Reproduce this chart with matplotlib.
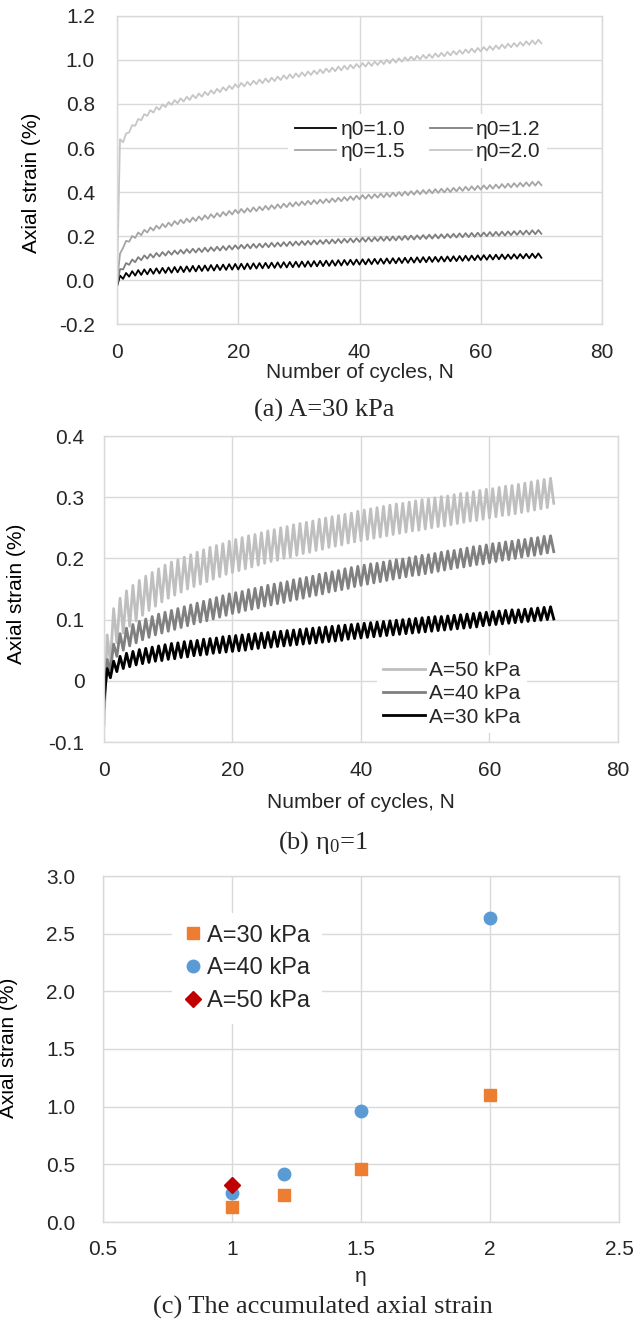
import matplotlib
matplotlib.use("Agg")
import matplotlib.pyplot as plt
from matplotlib.ticker import FormatStrFormatter
import numpy as np

W, H = 641, 1324
GRID = "#D9D9D9"; TXT = "#262626"
plt.rcParams.update({
    "font.family": ["Liberation Sans", "DejaVu Sans"], "font.size": 15,
    "mathtext.fontset": "custom", "mathtext.rm": "Liberation Serif",
    "mathtext.it": "Liberation Serif:italic",
    "text.color": TXT, "xtick.color": TXT, "ytick.color": TXT,
})

# ---- DATA ----
# cycle numbers; troughs sit on whole cycles, peaks half a cycle later
CYCLES = np.arange(71)

# (a) A=30 kPa, per-cycle troughs / peaks of axial strain (%)
eta12_lo = [-0.025, 0.048, 0.069, 0.081, 0.090, 0.097, 0.102, 0.107, 0.111, 0.115, 0.118, 0.120, 0.123, 0.125, 0.127,
            0.129, 0.132, 0.134, 0.136, 0.139, 0.141, 0.143, 0.144, 0.146, 0.148, 0.149, 0.151, 0.153, 0.154, 0.156,
            0.158, 0.159, 0.161, 0.162, 0.164, 0.165, 0.167, 0.168, 0.170, 0.171, 0.173, 0.174, 0.175, 0.177, 0.178,
            0.179, 0.180, 0.182, 0.183, 0.184, 0.186, 0.187, 0.188, 0.189, 0.190, 0.192, 0.193, 0.194, 0.195, 0.196,
            0.198, 0.199, 0.200, 0.201, 0.202, 0.204, 0.205, 0.206, 0.207, 0.208, 0.210]
eta12_hi = [0.050, 0.077, 0.093, 0.104, 0.112, 0.118, 0.123, 0.127, 0.131, 0.134, 0.137, 0.140, 0.142, 0.144, 0.147,
            0.149, 0.151, 0.154, 0.156, 0.158, 0.160, 0.162, 0.164, 0.165, 0.167, 0.169, 0.170, 0.172, 0.174, 0.175,
            0.177, 0.178, 0.180, 0.181, 0.183, 0.184, 0.186, 0.187, 0.189, 0.190, 0.192, 0.193, 0.194, 0.196, 0.197,
            0.198, 0.199, 0.201, 0.202, 0.203, 0.204, 0.206, 0.207, 0.208, 0.209, 0.210, 0.212, 0.213, 0.214, 0.215,
            0.216, 0.218, 0.219, 0.220, 0.221, 0.222, 0.224, 0.225, 0.226, 0.227]
eta15_lo = [-0.010, 0.146, 0.174, 0.191, 0.204, 0.216, 0.225, 0.233, 0.240, 0.246, 0.253, 0.258, 0.263, 0.268, 0.273,
            0.278, 0.283, 0.288, 0.293, 0.298, 0.303, 0.306, 0.310, 0.313, 0.317, 0.320, 0.324, 0.327, 0.331, 0.334,
            0.338, 0.341, 0.344, 0.346, 0.349, 0.352, 0.355, 0.358, 0.361, 0.364, 0.367, 0.369, 0.371, 0.374, 0.376,
            0.378, 0.381, 0.383, 0.385, 0.388, 0.390, 0.392, 0.394, 0.396, 0.398, 0.400, 0.403, 0.405, 0.407, 0.409,
            0.411, 0.413, 0.415, 0.417, 0.419, 0.421, 0.423, 0.425, 0.427, 0.429, 0.431]
eta15_hi = [0.120, 0.178, 0.200, 0.216, 0.228, 0.239, 0.247, 0.255, 0.261, 0.268, 0.274, 0.279, 0.284, 0.289, 0.294,
            0.299, 0.304, 0.309, 0.314, 0.319, 0.323, 0.326, 0.330, 0.333, 0.337, 0.340, 0.344, 0.347, 0.351, 0.354,
            0.357, 0.360, 0.363, 0.365, 0.368, 0.371, 0.374, 0.377, 0.380, 0.383, 0.386, 0.388, 0.390, 0.393, 0.395,
            0.397, 0.400, 0.402, 0.404, 0.407, 0.409, 0.411, 0.413, 0.415, 0.417, 0.419, 0.422, 0.424, 0.426, 0.428,
            0.430, 0.432, 0.434, 0.436, 0.438, 0.440, 0.442, 0.444, 0.446, 0.448]
eta20_lo = [0.000, 0.626, 0.671, 0.701, 0.726, 0.746, 0.761, 0.774, 0.786, 0.796, 0.804, 0.811, 0.818, 0.826, 0.833,
            0.840, 0.847, 0.854, 0.861, 0.868, 0.875, 0.880, 0.885, 0.890, 0.894, 0.899, 0.904, 0.909, 0.914, 0.918,
            0.923, 0.927, 0.932, 0.936, 0.940, 0.945, 0.949, 0.953, 0.957, 0.962, 0.966, 0.970, 0.973, 0.977, 0.981,
            0.985, 0.988, 0.992, 0.996, 0.999, 1.003, 1.007, 1.010, 1.014, 1.017, 1.021, 1.025, 1.028, 1.032, 1.035,
            1.039, 1.043, 1.046, 1.050, 1.054, 1.058, 1.061, 1.065, 1.069, 1.072, 1.076]
eta20_hi = [0.640, 0.666, 0.704, 0.732, 0.754, 0.772, 0.786, 0.798, 0.809, 0.818, 0.826, 0.833, 0.841, 0.848, 0.855,
            0.862, 0.869, 0.876, 0.883, 0.890, 0.896, 0.901, 0.906, 0.911, 0.916, 0.920, 0.925, 0.930, 0.935, 0.939,
            0.944, 0.948, 0.952, 0.957, 0.961, 0.965, 0.970, 0.974, 0.978, 0.982, 0.986, 0.990, 0.993, 0.997, 1.001,
            1.005, 1.008, 1.012, 1.015, 1.019, 1.023, 1.026, 1.030, 1.033, 1.037, 1.041, 1.044, 1.048, 1.052, 1.055,
            1.059, 1.063, 1.066, 1.070, 1.074, 1.077, 1.081, 1.085, 1.089, 1.092]

# (b) eta0=1, A = 30 / 40 / 50 kPa (A=30 is also the eta0=1.0 curve in (a))
a30_lo = [-0.030, 0.005, 0.015, 0.020, 0.023, 0.026, 0.028, 0.030, 0.032, 0.033, 0.035, 0.036, 0.038, 0.039, 0.041,
          0.042, 0.043, 0.045, 0.046, 0.047, 0.048, 0.049, 0.050, 0.052, 0.053, 0.054, 0.055, 0.056, 0.057, 0.058,
          0.059, 0.060, 0.061, 0.062, 0.063, 0.064, 0.065, 0.066, 0.068, 0.069, 0.070, 0.071, 0.072, 0.073, 0.074,
          0.075, 0.076, 0.077, 0.078, 0.079, 0.080, 0.081, 0.082, 0.083, 0.084, 0.085, 0.086, 0.087, 0.088, 0.090,
          0.091, 0.092, 0.093, 0.094, 0.095, 0.096, 0.097, 0.098, 0.099, 0.100, 0.101]
a30_hi = [0.020, 0.032, 0.040, 0.045, 0.048, 0.051, 0.053, 0.055, 0.057, 0.059, 0.061, 0.062, 0.064, 0.065, 0.066,
          0.068, 0.069, 0.070, 0.072, 0.073, 0.074, 0.075, 0.076, 0.077, 0.078, 0.079, 0.080, 0.081, 0.082, 0.083,
          0.084, 0.085, 0.086, 0.087, 0.088, 0.089, 0.090, 0.091, 0.092, 0.093, 0.094, 0.095, 0.096, 0.097, 0.098,
          0.099, 0.100, 0.101, 0.102, 0.103, 0.104, 0.105, 0.105, 0.106, 0.107, 0.108, 0.109, 0.110, 0.111, 0.112,
          0.113, 0.114, 0.115, 0.116, 0.116, 0.117, 0.118, 0.119, 0.120, 0.121]
a40_lo = [-0.045, 0.018, 0.040, 0.050, 0.057, 0.062, 0.067, 0.071, 0.075, 0.078, 0.081, 0.084, 0.087, 0.090, 0.093,
          0.096, 0.098, 0.101, 0.104, 0.107, 0.110, 0.112, 0.115, 0.117, 0.119, 0.122, 0.124, 0.126, 0.128, 0.131,
          0.133, 0.135, 0.138, 0.140, 0.142, 0.145, 0.147, 0.149, 0.151, 0.154, 0.156, 0.158, 0.160, 0.162, 0.164,
          0.166, 0.168, 0.170, 0.172, 0.173, 0.175, 0.177, 0.179, 0.181, 0.183, 0.185, 0.186, 0.188, 0.190, 0.191,
          0.193, 0.195, 0.197, 0.198, 0.200, 0.202, 0.204, 0.205, 0.207, 0.209, 0.211]
a40_hi = [0.035, 0.060, 0.077, 0.086, 0.092, 0.097, 0.101, 0.105, 0.109, 0.112, 0.115, 0.118, 0.121, 0.124, 0.127,
          0.130, 0.133, 0.136, 0.139, 0.142, 0.144, 0.146, 0.149, 0.151, 0.153, 0.156, 0.158, 0.160, 0.162, 0.165,
          0.167, 0.169, 0.171, 0.174, 0.176, 0.178, 0.180, 0.183, 0.185, 0.187, 0.189, 0.191, 0.192, 0.194, 0.196,
          0.198, 0.199, 0.201, 0.203, 0.205, 0.206, 0.208, 0.210, 0.212, 0.213, 0.215, 0.217, 0.219, 0.220, 0.222,
          0.224, 0.225, 0.227, 0.228, 0.230, 0.231, 0.233, 0.234, 0.236, 0.237]
a50_lo = [-0.072, 0.030, 0.062, 0.078, 0.089, 0.098, 0.107, 0.115, 0.122, 0.129, 0.135, 0.140, 0.145, 0.150, 0.154,
          0.158, 0.162, 0.166, 0.170, 0.174, 0.177, 0.180, 0.183, 0.186, 0.189, 0.192, 0.195, 0.197, 0.200, 0.202,
          0.205, 0.208, 0.210, 0.213, 0.215, 0.218, 0.220, 0.222, 0.225, 0.227, 0.229, 0.231, 0.233, 0.235, 0.237,
          0.239, 0.241, 0.243, 0.245, 0.246, 0.248, 0.250, 0.252, 0.253, 0.255, 0.257, 0.259, 0.261, 0.262, 0.264,
          0.266, 0.268, 0.270, 0.271, 0.273, 0.275, 0.277, 0.279, 0.281, 0.283, 0.290]
a50_hi = [0.075, 0.118, 0.135, 0.147, 0.156, 0.164, 0.171, 0.177, 0.183, 0.189, 0.194, 0.198, 0.202, 0.206, 0.210,
          0.214, 0.218, 0.221, 0.224, 0.228, 0.231, 0.234, 0.237, 0.239, 0.242, 0.245, 0.247, 0.250, 0.252, 0.255,
          0.257, 0.259, 0.261, 0.264, 0.266, 0.268, 0.270, 0.272, 0.274, 0.277, 0.279, 0.281, 0.283, 0.285, 0.287,
          0.289, 0.290, 0.292, 0.294, 0.296, 0.297, 0.299, 0.301, 0.302, 0.304, 0.306, 0.307, 0.309, 0.311, 0.313,
          0.314, 0.316, 0.318, 0.319, 0.321, 0.323, 0.325, 0.327, 0.329, 0.331]

# (c) accumulated axial strain vs eta
eta_30 = [1.0, 1.2, 1.5, 2.0]; acc_30 = [0.13, 0.23, 0.46, 1.10]
eta_40 = [1.0, 1.2, 1.5, 2.0]; acc_40 = [0.25, 0.42, 0.96, 2.64]
eta_50 = [1.0];                acc_50 = [0.32]


def zigzag(lo, hi):
    y = np.empty(len(lo) + len(hi)); y[0::2] = lo; y[1::2] = hi
    x = np.empty_like(y); x[0::2] = CYCLES; x[1::2] = CYCLES[:-1] + 0.5
    return x, y


fig = plt.figure(figsize=(W / 100, H / 100), dpi=100)


def axes_px(left, top, right, bottom):
    return fig.add_axes([left / W, 1 - bottom / H, (right - left) / W, (bottom - top) / H])


def style(ax, padx, pady):
    for s in ax.spines.values():
        s.set_color(GRID); s.set_linewidth(1)
    ax.grid(color=GRID, linewidth=1); ax.set_axisbelow(True)
    ax.tick_params(axis="x", length=0, pad=padx)
    ax.tick_params(axis="y", length=0, pad=pady)


def ftext(x, y, s, **kw):
    fig.text(x / W, 1 - y / H, s, ha="center", va="center", **kw)


# ---- (a) ----
ax1 = axes_px(117, 16, 602, 324)
l10, = ax1.plot(*zigzag(a30_lo, a30_hi), color="#000000", lw=1.3, label="η0=1.0")
l12, = ax1.plot(*zigzag(eta12_lo, eta12_hi), color="#7F7F7F", lw=1.3, label="η0=1.2")
l15, = ax1.plot(*zigzag(eta15_lo, eta15_hi), color="#A5A5A5", lw=1.3, label="η0=1.5")
l20, = ax1.plot(*zigzag(eta20_lo, eta20_hi), color="#C6C6C6", lw=1.3, label="η0=2.0")
ax1.set_xlim(0, 80); ax1.set_ylim(-0.2, 1.2)
ax1.set_xticks([0, 20, 40, 60, 80]); ax1.set_yticks([-0.2, 0, 0.2, 0.4, 0.6, 0.8, 1.0, 1.2])
ax1.yaxis.set_major_formatter(FormatStrFormatter("%.1f"))
style(ax1, 14, 16)
leg = ax1.legend(handles=[l10, l15, l12, l20], ncol=2, loc="center", bbox_to_anchor=(0.62, 0.595),
                 frameon=True, facecolor="white", edgecolor="none", framealpha=1, fancybox=False,
                 handlelength=2.0, handletextpad=0.2, columnspacing=1.2, labelspacing=0.15, borderpad=0.3)
ax1.set_ylabel("Axial strain (%)")
ax1.yaxis.set_label_coords(-0.157, 0.458)
ftext(360, 372, "Number of cycles, N")
ftext(324, 410, "(a) A=30 kPa", family="Liberation Serif", fontsize=19)

# ---- (b) ----
ax2 = axes_px(104, 436, 618, 742)
m50, = ax2.plot(*zigzag(a50_lo, a50_hi), color="#BFBFBF", lw=2.0, label="A=50 kPa")
m40, = ax2.plot(*zigzag(a40_lo, a40_hi), color="#808080", lw=2.0, label="A=40 kPa")
m30, = ax2.plot(*zigzag(a30_lo, a30_hi), color="#000000", lw=2.0, label="A=30 kPa")
ax2.set_xlim(0, 80); ax2.set_ylim(-0.1, 0.4)
ax2.set_xticks([0, 20, 40, 60, 80]); ax2.set_yticks([-0.1, 0, 0.1, 0.2, 0.3, 0.4])
ax2.yaxis.set_major_formatter(FormatStrFormatter("%g"))
style(ax2, 14, 14)
ax2.legend(handles=[m50, m40, m30], loc="center", bbox_to_anchor=(0.677, 0.157),
           frameon=True, facecolor="white", edgecolor="none", framealpha=1, fancybox=False,
           handlelength=2.0, handletextpad=0.2, labelspacing=0.2, borderpad=0.3)
ax2.set_ylabel("Axial strain (%)")
ax2.yaxis.set_label_coords(-0.151, 0.484)
ftext(361, 803, "Number of cycles, N")
ftext(323, 843, "(b) η$_0$=1", family="Liberation Serif", fontsize=19)

# ---- (c) ----
ax3 = axes_px(103, 876, 619, 1222)
ax3.plot(eta_30, acc_30, ls="none", marker="s", ms=9, color="#ED7D31", label="A=30 kPa")
ax3.plot(eta_40, acc_40, ls="none", marker="o", ms=9, color="#5B9BD5", label="A=40 kPa")
ax3.plot(eta_50, acc_50, ls="none", marker="D", ms=8, color="#C00000", label="A=50 kPa")
ax3.set_xlim(0.5, 2.5); ax3.set_ylim(0, 3.0)
ax3.set_xticks([0.5, 1, 1.5, 2, 2.5]); ax3.set_yticks([0, 0.5, 1.0, 1.5, 2.0, 2.5, 3.0])
ax3.xaxis.set_major_formatter(FormatStrFormatter("%g"))
ax3.yaxis.set_major_formatter(FormatStrFormatter("%.1f"))
style(ax3, 13, 20)
ax3.legend(loc="center", bbox_to_anchor=(0.279, 0.733), numpoints=1, fontsize=17,
           frameon=True, facecolor="white", edgecolor="none", framealpha=1, fancybox=False,
           handlelength=0.8, handletextpad=0.2, labelspacing=0.45, borderpad=0.5, borderaxespad=0)
ax3.set_ylabel("Axial strain (%)")
ax3.yaxis.set_label_coords(-0.165, 0.503)
ftext(361, 1277, "η")
ftext(323, 1307, "(c) The accumulated axial strain", family="Liberation Serif", fontsize=19)

fig.savefig("out.png", dpi=100)
